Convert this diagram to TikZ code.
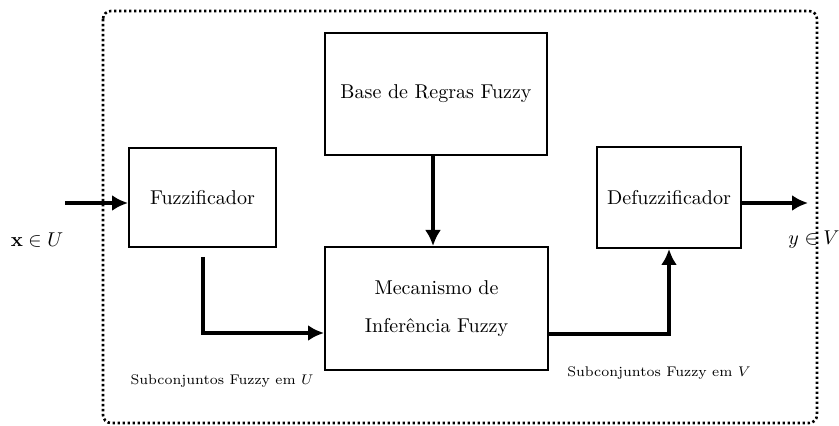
\documentclass[tikz,border=0pt]{standalone}
\usetikzlibrary{arrows.meta}
\begin{document}
\begin{tikzpicture}[x=0.5pt,y=-0.5pt,
  blk/.style={draw, line width=1pt, inner sep=0pt, align=center},
  arr/.style={line width=2pt, -{Latex[length=8pt,width=8pt]}},
  lbl/.style={inner sep=0pt, font=\scriptsize}]
\useasboundingbox (0,0) rectangle (839,426);
\draw[line width=1.3pt, dash pattern=on 1.2pt off 1.3pt, rounded corners=4pt] (103,11) rectangle (817,423);
\node[blk, minimum width=111pt, minimum height=61pt] (base) at (436,94) {Base de Regras Fuzzy};
\node[blk, minimum width=73.5pt, minimum height=49.5pt] (fuzz) at (202.5,197.5) {Fuzzificador};
\node[blk, minimum width=111.5pt, minimum height=61.5pt] (mec) at (436.5,308.5) {Mecanismo de\\[7pt]Inferência Fuzzy};
\node[blk, minimum width=72pt, minimum height=50.5pt] (defuzz) at (669,197.5) {Defuzzificador};
\coordinate (in) at (65,203);
\coordinate (out) at (808,203);
\draw[arr] (in) -- (in -| fuzz.west);
\draw[arr] ([yshift=-2.75pt]defuzz.east) -- (out);
\draw[arr] ([xshift=-1.5pt]base.south) -- ([xshift=-1.5pt]base.south |- mec.north);
\draw[arr] ([yshift=-4.5pt]fuzz.south) |- ([yshift=-12.25pt]mec.west);
\draw[arr] ([yshift=-12.75pt]mec.east) -| (defuzz.south);
\node[inner sep=0pt] (xu) at (37,240) {$\mathbf{x}\in U$};
\node[inner sep=0pt] (yv) at (814,240) {$y\in V$};
\node[lbl] (su) at (222,381) {Subconjuntos Fuzzy em $U$};
\node[lbl] (sv) at (659,373) {Subconjuntos Fuzzy em $V$};
\end{tikzpicture}
\end{document}
